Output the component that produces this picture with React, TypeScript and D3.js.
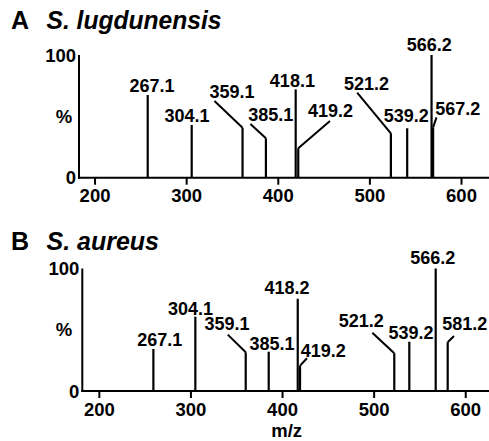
import React from "react";
import * as d3 from "d3";

// Panel A: S. lugdunensis
const peaksA = [257.5, 305.5, 361, 386.5, 419, 421.8, 522.9, 540.7, 567.3, 569];
const intensA = [67.4, 43, 40.7, 32.1, 72, 24, 36.2, 40.3, 100, 41];
const labelsA = ["267.1", "304.1", "359.1", "385.1", "418.1", "419.2", "521.2", "539.2", "566.2", "567.2"];
const labelMzA = [262.2, 300.4, 349.5, 391.8, 415.4, 457.1, 496.4, 539.6, 564.7, 595.8];
const labelIntA = [69.5, 45.6, 64.7, 46.2, 74.2, 49.7, 71.5, 45.6, 103, 51.1];
// leader end points (null = label sits straight above the line)
const leaderMzA = [null, null, 330.4, 369.6, null, 456.4, 486.1, null, null, 572.7];
const leaderIntA = [null, null, 62.5, 43.8, null, 46.2, 69.3, null, null, 49.2];

// Panel B: S. aureus
const peaksB = [259, 304.8, 359.8, 384.9, 416.6, 419.1, 522, 538.4, 567.2, 580.3];
const intensB = [34.3, 60.7, 31.6, 32.1, 75.3, 20.7, 30.8, 40.2, 100, 39.8];
const labelsB = ["267.1", "304.1", "359.1", "385.1", "418.2", "419.2", "521.2", "539.2", "566.2", "581.2"];
const labelMzB = [265.9, 299.6, 339.4, 388.5, 404.9, 444.5, 485.9, 540.3, 564, 598.9];
const labelIntB = [36.7, 62, 49.8, 33.5, 78.9, 28, 52.5, 42.2, 103.3, 49.8];
const leaderMzB = [null, null, 340.2, null, null, 426.7, 498, null, null, 587.2];
const leaderIntB = [null, null, 46, null, null, 26.7, 47.6, null, null, 44.9];

const xTicks = [200, 300, 400, 500, 600];

const FONT = "'Liberation Sans', Arial, sans-serif";

type PanelProps = {
  letter: string;
  species: string;
  speciesWidth: number;
  titleY: number;
  x0: number;
  domain: [number, number];
  yTop: number;
  yBase: number;
  peaks: number[];
  intens: number[];
  labels: string[];
  labelMz: number[];
  labelInt: number[];
  leaderMz: (number | null)[];
  leaderInt: (number | null)[];
};

function Panel(p: PanelProps) {
  const x = d3.scaleLinear().domain(p.domain).range([p.x0, 489]);
  const y = d3.scaleLinear().domain([0, 100]).range([p.yBase, p.yTop]);

  return (
    <g>
      <text x={11} y={p.titleY} fontFamily={FONT} fontWeight="bold" fontSize={25}>
        {p.letter}
      </text>
      <text
        x={46.5}
        y={p.titleY}
        fontFamily={FONT}
        fontWeight="bold"
        fontStyle="italic"
        fontSize={25}
        textLength={p.speciesWidth}
        lengthAdjust="spacingAndGlyphs"
      >
        {p.species}
      </text>

      {/* axes */}
      <line x1={x(p.domain[0])} x2={x(p.domain[0])} y1={y(100)} y2={y(0) + 1} stroke="#000" strokeWidth={2} />
      <line x1={x(p.domain[0]) - 1} x2={x(p.domain[1])} y1={y(0)} y2={y(0)} stroke="#000" strokeWidth={2} />
      {xTicks.map((t) => (
        <g key={t}>
          <line x1={x(t)} x2={x(t)} y1={y(0)} y2={y(0) + 7} stroke="#000" strokeWidth={2} />
          <text x={x(t)} y={y(0) + 24.5} textAnchor="middle" fontFamily={FONT} fontWeight="bold" fontSize={18.5}>
            {t}
          </text>
        </g>
      ))}
      <text x={x(p.domain[0]) - 3} y={y(100)} dy="0.36em" textAnchor="end" fontFamily={FONT} fontWeight="bold" fontSize={18.5}>
        100
      </text>
      <text x={x(p.domain[0]) - 3} y={y(0)} dy="0.36em" textAnchor="end" fontFamily={FONT} fontWeight="bold" fontSize={18.5}>
        0
      </text>
      <text x={64} y={y(50)} dy="0.36em" textAnchor="middle" fontFamily={FONT} fontWeight="bold" fontSize={18.5}>
        %
      </text>

      {/* peaks */}
      {p.peaks.map((mz, i) => (
        <line key={"p" + i} x1={x(mz)} x2={x(mz)} y1={y(0)} y2={y(p.intens[i])} stroke="#000" strokeWidth={2.2} />
      ))}
      {p.peaks.map((mz, i) =>
        p.leaderMz[i] == null ? null : (
          <line
            key={"l" + i}
            x1={x(mz)}
            y1={y(p.intens[i])}
            x2={x(p.leaderMz[i] as number)}
            y2={y(p.leaderInt[i] as number)}
            stroke="#000"
            strokeWidth={2}
          />
        )
      )}
      {p.labels.map((lab, i) => (
        <text
          key={"t" + i}
          x={x(p.labelMz[i])}
          y={y(p.labelInt[i])}
          textAnchor="middle"
          fontFamily={FONT}
          fontWeight="bold"
          fontSize={18}
        >
          {lab}
        </text>
      ))}
    </g>
  );
}

export default function App() {
  return (
    <svg width={489} height={441} style={{ position: "absolute", left: 0, top: 0, background: "#fff" }}>
      <Panel
        letter="A"
        species="S. lugdunensis"
        speciesWidth={175}
        titleY={29}
        x0={79}
        domain={[182.5, 630]}
        yTop={55}
        yBase={177.7}
        peaks={peaksA}
        intens={intensA}
        labels={labelsA}
        labelMz={labelMzA}
        labelInt={labelIntA}
        leaderMz={leaderMzA}
        leaderInt={leaderIntA}
      />
      <Panel
        letter="B"
        species="S. aureus"
        speciesWidth={112.5}
        titleY={250}
        x0={82.3}
        domain={[181.4, 625.4]}
        yTop={268.5}
        yBase={391}
        peaks={peaksB}
        intens={intensB}
        labels={labelsB}
        labelMz={labelMzB}
        labelInt={labelIntB}
        leaderMz={leaderMzB}
        leaderInt={leaderIntB}
      />
      <text x={286.7} y={437} textAnchor="middle" fontFamily={FONT} fontWeight="bold" fontSize={18.5}>
        m/z
      </text>
    </svg>
  );
}
